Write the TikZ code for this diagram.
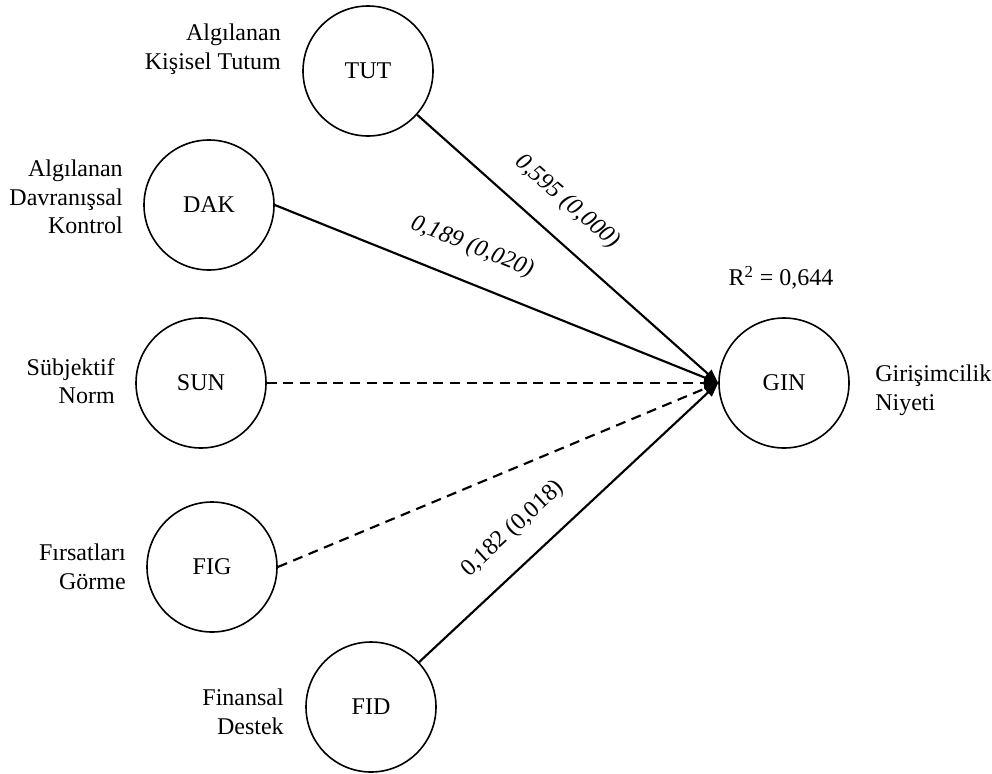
\documentclass[tikz,border=0pt]{standalone}
\usepackage{fontspec}
\setmainfont{Liberation Serif}
\usetikzlibrary{arrows.meta}
\begin{document}
\begin{tikzpicture}[x=0.75pt,y=-0.75pt,
  every node/.style={font=\fontsize{18}{21.5}\selectfont},
  latent/.style={circle,draw,line width=1.2pt,minimum size=97.5pt,inner sep=0pt},
  lbl/.style={align=right,anchor=east,inner sep=0pt},
  path/.style={line width=1.6pt,-{Triangle[length=10.5pt,width=8pt]}},
  nspath/.style={path,dash pattern=on 7.5pt off 5pt},
  coef/.style={inner sep=0pt}]
\useasboundingbox (0,0) rectangle (992,774);
\node[latent] (TUT) at (368,71) {TUT};
\node[latent] (DAK) at (209,205) {DAK};
\node[latent] (SUN) at (201,383) {SUN};
\node[latent] (FIG) at (212,567) {FIG};
\node[latent] (FID) at (371,707) {FID};
\node[latent] (GIN) at (784,383) {GIN};

\node[lbl] (lTUT) at (281,49) {Algılanan\\Kişisel Tutum};
\node[lbl] (lDAK) at (123,197) {Algılanan\\Davranışsal\\Kontrol};
\node[lbl] (lSUN) at (115,381) {Sübjektif\\Norm};
\node[lbl] (lFIG) at (126,567) {Fırsatları\\Görme};
\node[lbl] (lFID) at (284,712) {Finansal\\Destek};
\node[align=left,anchor=west,inner sep=0pt] (lGIN) at (875,390) {Girişimcilik\\Niyeti};
\node[inner sep=0pt] (r2) at (781,278) {R\textsuperscript{2} = 0,644};

\draw[path] (TUT) -- (GIN.west);
\draw[path] (DAK.east) -- (GIN.west);
\draw[nspath] (SUN.east) -- (GIN.west);
\draw[nspath] (FIG.east) -- (GIN.west);
\draw[path] (FID) -- (GIN.west);

\node[coef,rotate=-41.2,font=\fontsize{18}{21.5}\selectfont\itshape] (cTUT) at (567,202) {0,595 (0,000)};
\node[coef,rotate=-21.8,font=\fontsize{18}{21.5}\selectfont\itshape] (cDAK) at (472,247) {0,189 (0,020)};
\node[coef,rotate=42.6] (cFID) at (513,529) {0,182 (0,018)};
\end{tikzpicture}
\end{document}
